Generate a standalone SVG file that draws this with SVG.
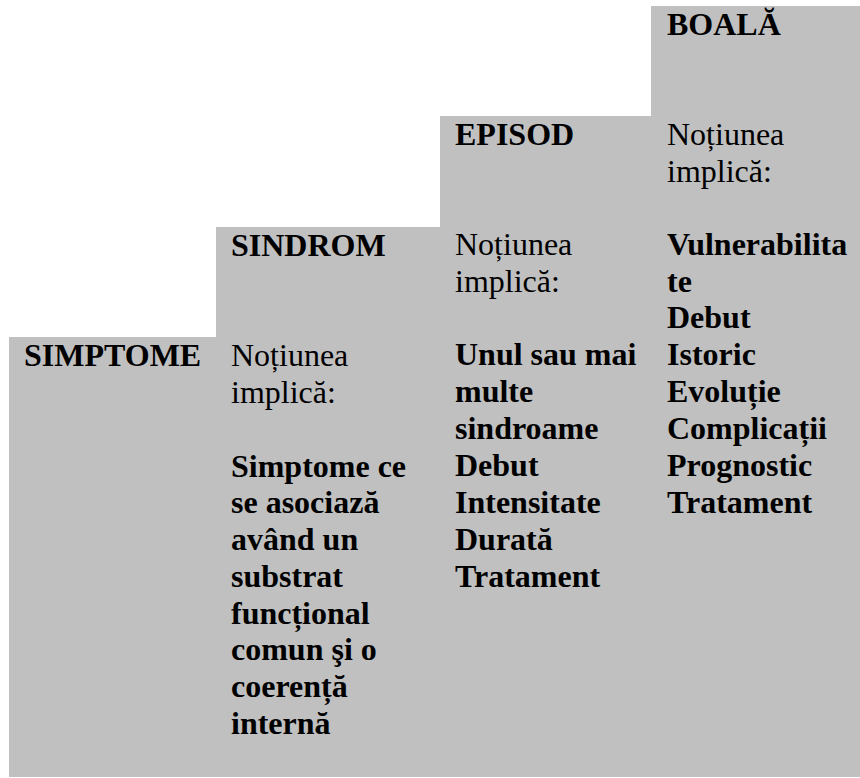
<svg xmlns="http://www.w3.org/2000/svg" width="860" height="778" viewBox="0 0 860 778">
<style>
.cell{fill:#c0c0c0;stroke:none}
text{font-family:"Liberation Serif","Times New Roman",serif;font-size:32px;fill:#000}
.b{font-weight:bold}
</style>
<rect width="860" height="778" fill="#fff"/>
<g id="simptome">
<rect class="cell" x="9" y="337" width="208" height="440"/>
<text class="b" x="24" y="366">SIMPTOME</text>
</g>
<g id="sindrom">
<rect class="cell" x="216" y="227" width="225" height="550"/>
<text class="b" x="231" y="256">SINDROM</text>
<text x="231" y="366">Noțiunea</text>
<text x="231" y="403">implică:</text>
<text class="b" x="231" y="477">Simptome ce</text>
<text class="b" x="231" y="513">se asociază</text>
<text class="b" x="231" y="550">având un</text>
<text class="b" x="231" y="587">substrat</text>
<text class="b" x="231" y="624">funcțional</text>
<text class="b" x="231" y="660">comun şi o</text>
<text class="b" x="231" y="697">coerență</text>
<text class="b" x="231" y="734">internă</text>
</g>
<g id="episod">
<rect class="cell" x="440" y="116" width="212" height="661"/>
<text class="b" x="455" y="145">EPISOD</text>
<text x="455" y="255">Noțiunea</text>
<text x="455" y="292">implică:</text>
<text class="b" x="455" y="365">Unul sau mai</text>
<text class="b" x="455" y="402">multe</text>
<text class="b" x="455" y="439">sindroame</text>
<text class="b" x="455" y="476">Debut</text>
<text class="b" x="455" y="513">Intensitate</text>
<text class="b" x="455" y="550">Durată</text>
<text class="b" x="455" y="587">Tratament</text>
</g>
<g id="boala">
<rect class="cell" x="651" y="6" width="209" height="771"/>
<text class="b" x="667" y="35">BOALĂ</text>
<text x="667" y="145">Noțiunea</text>
<text x="667" y="182">implică:</text>
<text class="b" x="667" y="255">Vulnerabilita</text>
<text class="b" x="667" y="292">te</text>
<text class="b" x="667" y="328">Debut</text>
<text class="b" x="667" y="365">Istoric</text>
<text class="b" x="667" y="402">Evoluție</text>
<text class="b" x="667" y="439">Complicații</text>
<text class="b" x="667" y="476">Prognostic</text>
<text class="b" x="667" y="513">Tratament</text>
</g>
<g id="connectors"></g>
</svg>
